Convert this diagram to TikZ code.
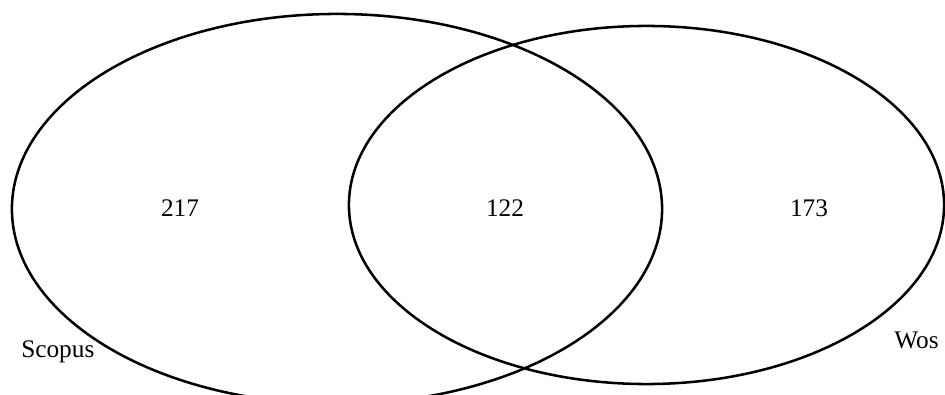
\documentclass[tikz,border=0pt]{standalone}
\usepackage{fontspec}
\setmainfont{Liberation Serif}
\usetikzlibrary{backgrounds}
\usetikzlibrary{shapes,shapes.geometric,positioning}
\pgfdeclarelayer{edgelayer}
\pgfdeclarelayer{nodelayer}
\pgfsetlayers{background,edgelayer,nodelayer,main}
\tikzstyle{none}=[inner sep=0mm]
\tikzstyle{set}=[shape=ellipse,draw=black,line width=1.8pt,inner sep=0mm]
\tikzstyle{count}=[none,font={\fontsize{18}{20}\selectfont}]

\begin{document}
\begin{tikzpicture}[x=0.025cm,y=0.025cm,font={\fontsize{18}{20}\selectfont}]
	\useasboundingbox (0, 0) rectangle (945, 394);
	\begin{pgfonlayer}{edgelayer}
		\node [style=set, minimum width=16.25cm, minimum height=9.75cm] (scopus) at (337, 185) {};
		\node [style=set, minimum width=14.875cm, minimum height=8.95cm] (wos) at (646.5, 189) {};
	\end{pgfonlayer}
	\begin{pgfonlayer}{nodelayer}
		\node [style=count] (only scopus) at (180, 186) {217};
		\node [style=count] (both) at (505, 186) {122};
		\node [style=count] (only wos) at (809, 186) {173};
		\node [style=none, anchor=base west] (scopus label) at (21, 37) {Scopus};
		\node [style=none, anchor=base west] (wos label) at (894, 45) {Wos};
	\end{pgfonlayer}
\end{tikzpicture}
\end{document}
